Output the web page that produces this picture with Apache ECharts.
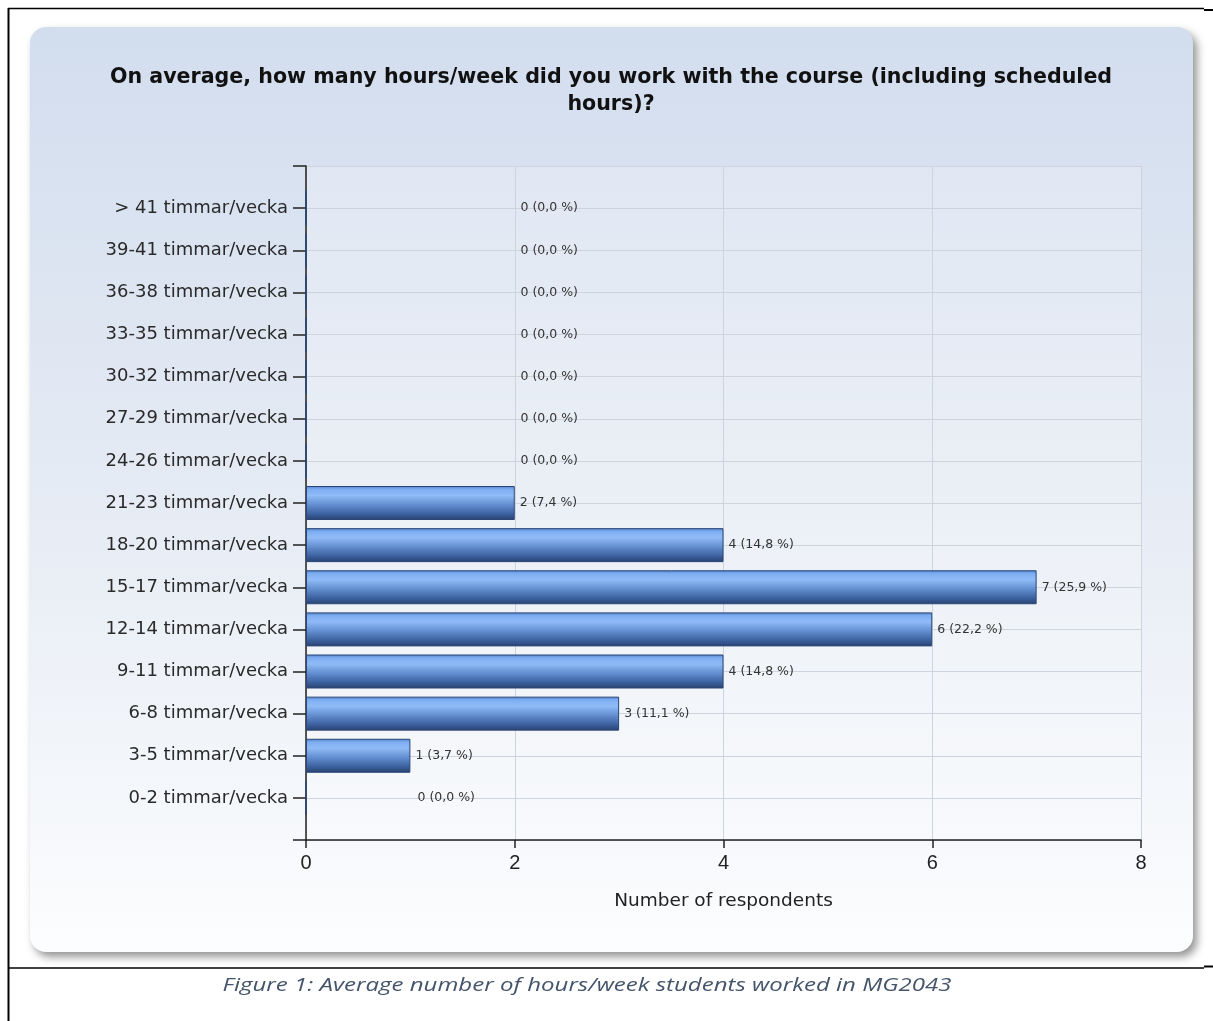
<!DOCTYPE html>
<html>
<head>
<meta charset="utf-8">
<script src="https://cdn.jsdelivr.net/npm/echarts@6/dist/echarts.min.js"></script>
<style>
html,body{margin:0;padding:0;background:#fff;}
#c{width:1213px;height:1021px;}
</style>
</head>
<body>
<div id="c"></div>
<script>
// Categories, bottom to top
const categories = [
  '0-2 timmar/vecka', '3-5 timmar/vecka', '6-8 timmar/vecka', '9-11 timmar/vecka',
  '12-14 timmar/vecka', '15-17 timmar/vecka', '18-20 timmar/vecka', '21-23 timmar/vecka',
  '24-26 timmar/vecka', '27-29 timmar/vecka', '30-32 timmar/vecka', '33-35 timmar/vecka',
  '36-38 timmar/vecka', '39-41 timmar/vecka', '> 41 timmar/vecka'
];
const counts = [0, 1, 3, 4, 6, 7, 4, 2, 0, 0, 0, 0, 0, 0, 0];
const percents = ['0,0', '3,7', '11,1', '14,8', '22,2', '25,9', '14,8', '7,4', '0,0', '0,0', '0,0', '0,0', '0,0', '0,0', '0,0'];
const xTicks = [0, 2, 4, 6, 8];
const titleText = 'On average, how many hours/week did you work with the course (including scheduled\nhours)?';
const xName = 'Number of respondents';
const captionText = 'Figure 1: Average number of hours/week students worked in MG2043';

// padded axis: empty slot at bottom and top (axis ends)
const axisCats = [' '].concat(categories, ['  ']);

const barGrad = new echarts.graphic.LinearGradient(0, 0, 0, 1, [
  {offset: 0, color: '#4f7fc8'},
  {offset: 0.1, color: '#7eaef2'},
  {offset: 0.28, color: '#90bbf7'},
  {offset: 0.55, color: '#638ed0'},
  {offset: 0.82, color: '#3c619f'},
  {offset: 1, color: '#27416f'}
]);

const seriesData = [{value: null}].concat(counts.map((v, i) => {
  const item = {value: v};
  if (v === 0) {
    item.label = {offset: [i === 0 ? 106 : 209, 0]};
  }
  return item;
}), [{value: null}]);

const chart = echarts.init(document.getElementById('c'));
chart.setOption({
  animation: false,
  backgroundColor: '#ffffff',
  title: {
    text: titleText,
    left: 611,
    top: 64,
    textAlign: 'center',
    padding: 0,
    textStyle: {
      fontFamily: 'DejaVu Sans',
      fontWeight: 'bold',
      fontSize: 20.6,
      lineHeight: 27,
      color: '#111'
    }
  },
  graphic: [
    {type: 'rect', z: -10, shape: {x: 30, y: 27, width: 1163, height: 925, r: 16},
      style: {
        fill: new echarts.graphic.LinearGradient(0, 0, 0, 1, [
          {offset: 0, color: '#d2ddee'},
          {offset: 0.5, color: '#e5ebf4'},
          {offset: 1, color: '#fcfdfe'}
        ]),
        shadowBlur: 8, shadowOffsetX: 4, shadowOffsetY: 5, shadowColor: 'rgba(0,0,0,0.42)'
      }},
    {type: 'line', shape: {x1: 8.5, y1: 8, x2: 8.5, y2: 1021}, style: {stroke: '#000', lineWidth: 2}},
    {type: 'line', shape: {x1: 8, y1: 8.5, x2: 1204, y2: 8.5}, style: {stroke: '#000', lineWidth: 1.5}},
    {type: 'line', shape: {x1: 1204, y1: 10, x2: 1213, y2: 10}, style: {stroke: '#000', lineWidth: 2}},
    {type: 'line', shape: {x1: 8, y1: 968, x2: 1204, y2: 968}, style: {stroke: '#000', lineWidth: 1.5}},
    {type: 'line', shape: {x1: 1204, y1: 966.5, x2: 1213, y2: 966.5}, style: {stroke: '#000', lineWidth: 2}},
    {type: 'text', x: 587, y: 986, scaleX: 1.264, scaleY: 1,
      style: {text: captionText, fill: '#44546a', fontFamily: 'Open Sans', fontStyle: 'italic',
        fontSize: 19, align: 'center', verticalAlign: 'middle'}}
  ],
  grid: {
    left: 306, right: 72, top: 166, bottom: 181,
    show: true, backgroundColor: 'rgba(255,255,255,0.22)', borderWidth: 0
  },
  xAxis: {
    type: 'value',
    min: xTicks[0], max: xTicks[xTicks.length - 1], interval: 2,
    name: xName,
    nameLocation: 'middle',
    nameGap: 52,
    nameTextStyle: {fontFamily: 'DejaVu Sans', fontSize: 18.5, color: '#222'},
    axisLine: {show: true, lineStyle: {color: '#222', width: 1.5}},
    axisTick: {show: true, length: 8, lineStyle: {color: '#222', width: 1.5}},
    axisLabel: {fontFamily: 'Liberation Sans', fontSize: 20, color: '#222', margin: 13},
    splitLine: {show: true, lineStyle: {color: '#cdd4de', width: 1}}
  },
  yAxis: {
    type: 'category',
    data: axisCats,
    boundaryGap: false,
    axisLine: {show: true, lineStyle: {color: '#222', width: 1.5}},
    axisTick: {show: true, length: 13, lineStyle: {color: '#222', width: 1.5}},
    axisLabel: {fontFamily: 'DejaVu Sans', fontSize: 18, color: '#2a2a2a', margin: 18, interval: 0},
    splitLine: {show: true, lineStyle: {color: '#cdd4de', width: 1}}
  },
  series: [{
    type: 'bar',
    data: seriesData,
    barWidth: 34,
    itemStyle: {color: barGrad, borderColor: '#2b4777', borderWidth: 1},
    label: {
      show: true,
      position: 'right',
      distance: 5,
      fontFamily: 'DejaVu Sans',
      fontSize: 12.5,
      color: '#333',
      formatter: p => {
        const i = p.dataIndex - 1;
        if (i < 0 || i >= counts.length) return '';
        return counts[i] + ' (' + percents[i] + ' %)';
      }
    }
  }]
});
</script>
</body>
</html>
